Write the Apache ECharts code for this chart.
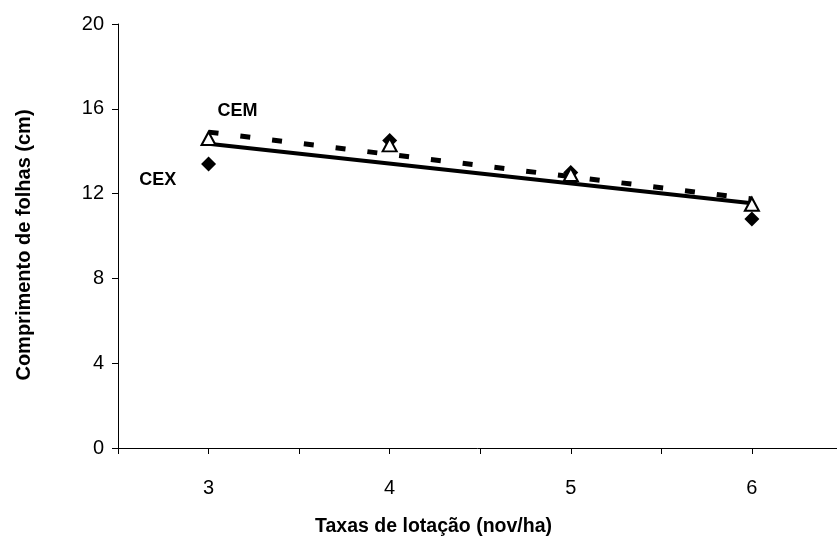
<!DOCTYPE html>
<html><head><meta charset="utf-8">
<script src="https://cdn.jsdelivr.net/npm/echarts@6/dist/echarts.min.js"></script>
<style>html,body{margin:0;padding:0;background:#fff}#c{width:837px;height:542px}</style>
</head><body><div id="c"></div>
<script>
// Data
var xValues = [3, 4, 5, 6];
var cemValues = [14.6, 14.3, 12.9, 11.5];   // open triangles
var cexValues = [13.4, 14.5, 13.0, 10.8];   // filled diamonds
var trendX = [3, 6];
var cemTrend = [14.9, 11.75];               // dashed trend line
var cexTrend = [14.35, 11.55];              // solid trend line
var yTicks = [0, 4, 8, 12, 16, 20];
var xTickLabels = [3, 4, 5, 6];
var seriesLabels = ['CEM', 'CEX'];
var labelAnchors = [[3.16, 15.88], [2.72, 12.65]];

function pairs(xs, ys){ return xs.map(function(x,i){ return [x, ys[i]]; }); }

var font = 'Liberation Sans, Arial, sans-serif';
var chart = echarts.init(document.getElementById('c'), null, {renderer:'canvas'});
chart.setOption({
  animation: false,
  backgroundColor: '#fff',
  grid: {left: 118, top: 24, bottom: 91, right: 0, containLabel: false},
  xAxis: {
    type: 'value', min: 2.5, max: 6.47, interval: 0.5,
    name: 'Taxas de lotação (nov/ha)', nameLocation: 'middle', nameGap: 69,
    nameTextStyle: {fontFamily: font, fontWeight: 'bold', fontSize: 19.5, color: '#000', padding: [0, 88, 0, 0]},
    axisLine: {show: true, onZero: false, lineStyle: {color: '#000', width: 1}},
    axisTick: {show: true, inside: false, length: 6, lineStyle: {color: '#000'}},
    axisLabel: {fontFamily: font, fontSize: 20, color: '#000', margin: 30, showMaxLabel: false,
      formatter: function(v){ return xTickLabels.indexOf(v) >= 0 ? String(v) : ''; }},
    splitLine: {show: false}
  },
  yAxis: {
    type: 'value', min: yTicks[0], max: yTicks[yTicks.length-1], interval: 4,
    name: 'Comprimento de folhas (cm)', nameLocation: 'middle', nameGap: 84,
    nameTextStyle: {fontFamily: font, fontWeight: 'bold', fontSize: 20, color: '#000', padding: [0, 18, 0, 0]},
    axisLine: {show: true, lineStyle: {color: '#000', width: 1}},
    axisTick: {show: true, inside: false, length: 6, lineStyle: {color: '#000'}},
    axisLabel: {fontFamily: font, fontSize: 20, color: '#000', margin: 14},
    splitLine: {show: false}
  },
  series: [
    {type: 'line', data: pairs(trendX, cemTrend), symbol: 'none', z: 2,
     lineStyle: {color: '#000', width: 5, type: [10, 22]}},
    {type: 'line', data: pairs(trendX, cexTrend), symbol: 'none', z: 3,
     lineStyle: {color: '#000', width: 4, type: 'solid'}},
    {type: 'scatter', name: 'CEX', data: pairs(xValues, cexValues), symbol: 'diamond', symbolSize: 15, z: 4,
     itemStyle: {color: '#000', opacity: 1}},
    {type: 'scatter', name: 'CEM', data: pairs(xValues, cemValues), symbol: 'triangle', symbolSize: [14, 13], z: 5,
     itemStyle: {color: '#fff', borderColor: '#000', borderWidth: 2, opacity: 1}},
    {type: 'scatter', name: 'labels', z: 6, symbolSize: 1, silent: true,
     itemStyle: {color: 'rgba(0,0,0,0)', opacity: 1},
     data: labelAnchors.map(function(c, i){ return {value: c, name: seriesLabels[i]}; }),
     label: {show: true, position: 'inside', formatter: '{b}', fontFamily: font, fontWeight: 'bold', fontSize: 18, color: '#000', opacity: 1}}
  ]
});
</script></body></html>
